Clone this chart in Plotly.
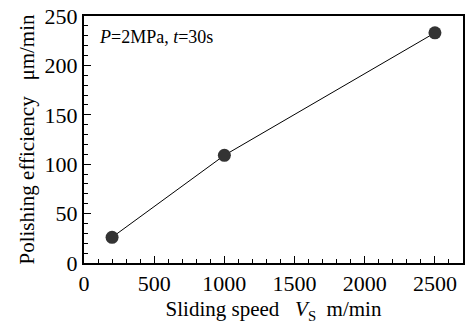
import plotly.graph_objects as go

speed = [200, 1000, 2500]
efficiency = [26, 109, 233]
x_ticks = [0, 500, 1000, 1500, 2000, 2500]
y_ticks = [0, 50, 100, 150, 200, 250]

font = "Liberation Serif, Times New Roman, serif"

fig = go.Figure()
fig.add_trace(go.Scatter(
    x=speed, y=efficiency, mode="lines+markers",
    line=dict(color="black", width=1),
    marker=dict(size=13, color="#333333"),
    showlegend=False, cliponaxis=False,
))

fig.update_layout(
    width=465, height=324,
    margin=dict(l=84, r=2, t=16, b=61),
    paper_bgcolor="white", plot_bgcolor="white",
    font=dict(family=font, color="black"),
    annotations=[dict(
        x=0.035, y=0.965, xref="paper", yref="paper", xanchor="left", yanchor="top",
        text="<i>P</i>=2MPa, <i>t</i>=30s", showarrow=False,
        font=dict(family=font, size=18, color="black"),
    )],
)
fig.update_xaxes(
    range=[0, 2700], tickvals=x_ticks, ticktext=[str(v) for v in x_ticks],
    ticks="inside", ticklen=7, tickwidth=1, tickcolor="black",
    minor=dict(dtick=100, ticks="inside", ticklen=4, tickcolor="black", showgrid=False),
    showline=True, linecolor="black", linewidth=2, mirror=True,
    showgrid=False, zeroline=False, automargin=False,
    tickfont=dict(size=22),
    title=dict(text="Sliding speed&nbsp;&nbsp;&nbsp;<i>V</i><sub>S</sub>&nbsp;&nbsp;m/min",
               font=dict(size=21), standoff=6),
)
fig.update_yaxes(
    range=[0, 250], tickvals=y_ticks, ticktext=[str(v) for v in y_ticks],
    ticks="inside", ticklen=7, tickwidth=1, tickcolor="black",
    minor=dict(dtick=10, ticks="inside", ticklen=4, tickcolor="black", showgrid=False),
    showline=True, linecolor="black", linewidth=2, mirror=True,
    showgrid=False, zeroline=False, automargin=False,
    tickfont=dict(size=22),
    title=dict(text="Polishing efficiency&nbsp;&nbsp;&nbsp;μm/min",
               font=dict(size=21), standoff=4),
)

fig.write_html("out.html", config={"displayModeBar": False},
               post_script="document.body.style.margin='0px';")
